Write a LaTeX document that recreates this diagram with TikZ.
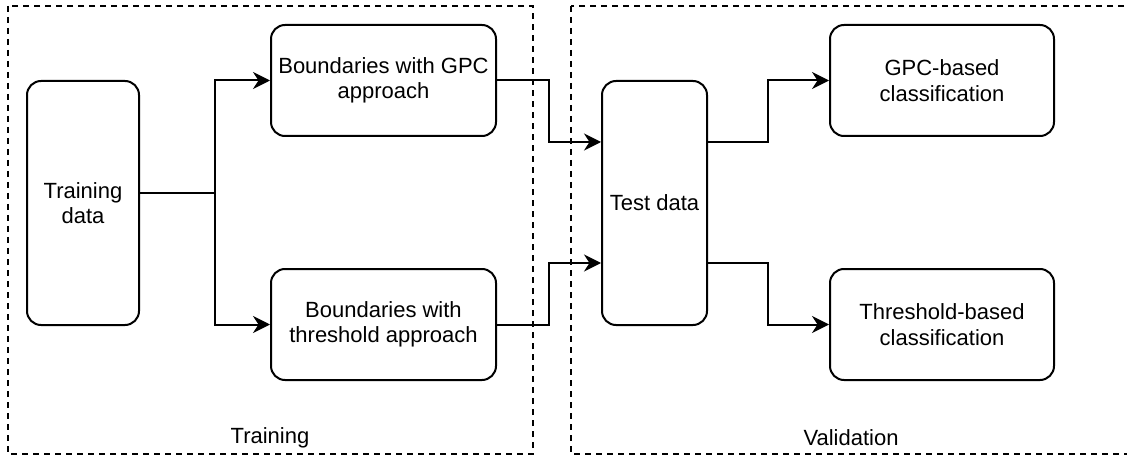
\documentclass[tikz,border=0pt]{standalone}
\usepackage{fontspec}
\setmainfont{Liberation Sans}
\usetikzlibrary{arrows.meta,calc}

\tikzset{
  box/.style={draw, line width=2pt, rounded corners=14pt, align=center,
    inner sep=0pt, font=\fontsize{22}{25.5}\selectfont},
  frame/.style={draw, line width=1.6pt, dash pattern=on 6pt off 5pt},
  conn/.style={line width=2pt},
  arr/.style={conn, -{Stealth[length=17pt, width=17pt, inset=5.5pt]}},
  lbl/.style={font=\fontsize{22}{25.5}\selectfont, inner sep=0pt},
}

\begin{document}
\begin{tikzpicture}[x=1pt, y=-1pt]
  \useasboundingbox (0,0) rectangle (1127,457);
  \clip (0,0) rectangle (1127,457);

  % dashed group frames
  \draw[frame] (8,6) rectangle (533,454);
  \draw[frame] (571,6) rectangle (1131,454);
  \node[lbl] (ltrain) at (270,438) {Training};
  \node[lbl] (lval) at (851,438) {Validation};

  % process boxes
  \node[box, minimum width=112pt, minimum height=244pt] (train) at (83,203) {Training\\data};
  \node[box, minimum width=225pt, minimum height=111pt] (gpcb) at (383.5,80.5) {Boundaries with GPC\\approach};
  \node[box, minimum width=225pt, minimum height=111pt] (thrb) at (383.5,324.5) {Boundaries with\\threshold approach};
  \node[box, minimum width=105pt, minimum height=244pt] (test) at (654.5,203) {Test data};
  \node[box, minimum width=224pt, minimum height=111pt] (gpcc) at (942,80.5) {GPC-based\\classification};
  \node[box, minimum width=224pt, minimum height=111pt] (thrc) at (942,324.5) {Threshold-based\\classification};

  % routing points
  \coordinate (br) at (215,193);
  \coordinate (jin) at (549,0);
  \coordinate (jout) at (768,0);
  \coordinate (tin1) at ([yshift=61pt]test.west);
  \coordinate (tin2) at ([yshift=-60pt]test.west);
  \coordinate (tout1) at ([yshift=61pt]test.east);
  \coordinate (tout2) at ([yshift=-60pt]test.east);

  % training data to both boundary methods
  \draw[conn] (train.east |- br) -- (br);
  \draw[arr] (br) |- (gpcb.west);
  \draw[arr] (br) |- (thrb.west);

  % boundaries to test data
  \draw[arr] (gpcb.east) -- (gpcb.east -| jin) |- (tin1);
  \draw[arr] (thrb.east) -- (thrb.east -| jin) |- (tin2);

  % test data to classifications
  \draw[arr] (tout1) -- (tout1 -| jout) |- (gpcc.west);
  \draw[arr] (tout2) -- (tout2 -| jout) |- (thrc.west);
\end{tikzpicture}
\end{document}
